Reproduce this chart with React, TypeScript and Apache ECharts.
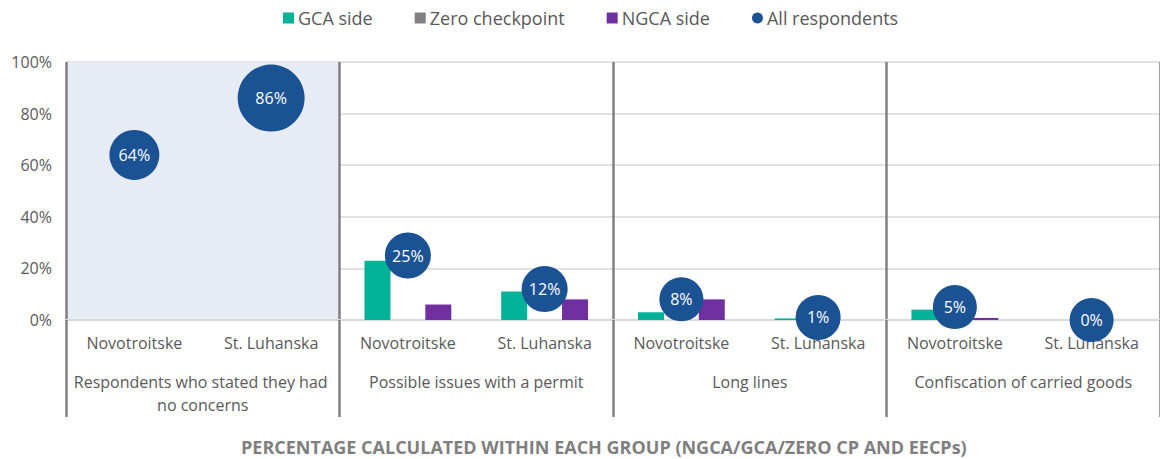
import React, { useEffect, useRef } from "react";
import * as echarts from "echarts";

// ---------- data ----------
const categories = [
  "Novotroitske",
  "St. Luhanska",
  "Novotroitske",
  "St. Luhanska",
  "Novotroitske",
  "St. Luhanska",
  "Novotroitske",
  "St. Luhanska",
];
const groups = [
  "Respondents who stated they had no concerns",
  "Possible issues with a permit",
  "Long lines",
  "Confiscation of carried goods",
];
const gcaSide = [0, 0, 23, 11, 3, 0.6, 4, 0];
const zeroCheckpoint = [0, 0, 0, 0, 0, 0, 0, 0];
const ngcaSide = [0, 0, 6, 8, 8, 0, 0.8, 0];
const allRespondents = [64, 86, 25, 12, 8, 1, 5, 0];
const seriesNames = ["GCA side", "Zero checkpoint", "NGCA side", "All respondents"];
const axisTitle = "PERCENTAGE CALCULATED WITHIN EACH GROUP (NGCA/GCA/ZERO CP AND EECPs)";

// ---------- styles ----------
const bubbleSizes = [50, 67, 46, 46, 44, 45, 44, 44];
const COLORS = {
  gca: "#00B398",
  zero: "#808080",
  ngca: "#7030A0",
  all: "#1B5294",
  text: "#595959",
  grid: "#D9D9D9",
  sep: "#808080",
  shade: "#E7ECF4",
};
const FONT = "'Open Sans', 'Noto Sans', sans-serif";

export default function App() {
  const ref = useRef<HTMLDivElement>(null);

  useEffect(() => {
    document.body.style.margin = "0";
    if (!ref.current) return;
    const chart = echarts.init(ref.current, undefined, { renderer: "svg" });

    const option: any = {
      animation: false,
      textStyle: { fontFamily: FONT },
      legend: {
        top: 4,
        left: 278,
        itemWidth: 11,
        itemHeight: 11,
        itemGap: 42,
        textStyle: { fontSize: 18, color: COLORS.text, fontFamily: FONT, padding: [0, 0, 0, -1] },
        data: [
          { name: seriesNames[0], icon: "rect" },
          { name: seriesNames[1], icon: "rect" },
          { name: seriesNames[2], icon: "rect" },
          { name: seriesNames[3], icon: "circle" },
        ],
      },
      title: {
        text: axisTitle,
        left: 236,
        top: 433,
        textStyle: { fontSize: 18, fontWeight: "bold", color: "#7F7F7F", fontFamily: FONT },
      },
      grid: { left: 66, right: -9, top: 62, bottom: 139, containLabel: false },
      xAxis: [
        {
          type: "category",
          data: categories,
          axisLine: { show: true, lineStyle: { color: COLORS.grid, width: 2 } },
          axisTick: { show: false },
          axisLabel: { interval: 0, margin: 15, fontSize: 16, color: COLORS.text, fontFamily: FONT },
          splitLine: { show: false },
        },
        {
          type: "category",
          data: groups,
          position: "bottom",
          axisLine: { show: false },
          axisTick: { show: true, interval: 0, length: 97, lineStyle: { color: COLORS.sep, width: 2.5 } },
          axisLabel: {
            interval: 0,
            margin: 50,
            fontSize: 16,
            lineHeight: 23,
            color: COLORS.text,
            fontFamily: FONT,
            width: 262,
            overflow: "break",
            align: "center",
          },
          splitLine: { show: true, interval: 0, lineStyle: { color: COLORS.sep, width: 2.5 } },
          splitArea: {
            show: true,
            interval: 0,
            areaStyle: { color: [COLORS.shade, "rgba(0,0,0,0)", "rgba(0,0,0,0)", "rgba(0,0,0,0)"] },
          },
        },
      ],
      yAxis: {
        type: "value",
        min: 0,
        max: 100,
        interval: 20,
        axisLine: { show: false },
        axisTick: { show: false },
        axisLabel: { formatter: "{value}%", fontSize: 16, color: COLORS.text, margin: 14, fontFamily: FONT },
        splitLine: { show: true, lineStyle: { color: COLORS.grid, width: 1.5 } },
      },
      series: [
        {
          name: seriesNames[0],
          type: "bar",
          xAxisIndex: 0,
          data: gcaSide,
          barWidth: 26,
          barGap: "17%",
          itemStyle: { color: COLORS.gca },
        },
        {
          name: seriesNames[1],
          type: "bar",
          xAxisIndex: 0,
          data: zeroCheckpoint,
          barWidth: 26,
          barGap: "17%",
          itemStyle: { color: COLORS.zero },
        },
        {
          name: seriesNames[2],
          type: "bar",
          xAxisIndex: 0,
          data: ngcaSide,
          barWidth: 26,
          barGap: "17%",
          itemStyle: { color: COLORS.ngca },
        },
        {
          name: seriesNames[3],
          type: "scatter",
          xAxisIndex: 0,
          z: 5,
          data: allRespondents.map((v, i) => ({ value: v, symbolSize: bubbleSizes[i] })),
          itemStyle: { color: COLORS.all, opacity: 1 },
          label: {
            show: true,
            position: "inside",
            formatter: "{c}%",
            color: "#FFFFFF",
            fontSize: 16,
            fontFamily: FONT,
          },
        },
      ],
    };

    chart.setOption(option);
    return () => chart.dispose();
  }, []);

  return <div ref={ref} style={{ width: 1160, height: 459 }} />;
}
